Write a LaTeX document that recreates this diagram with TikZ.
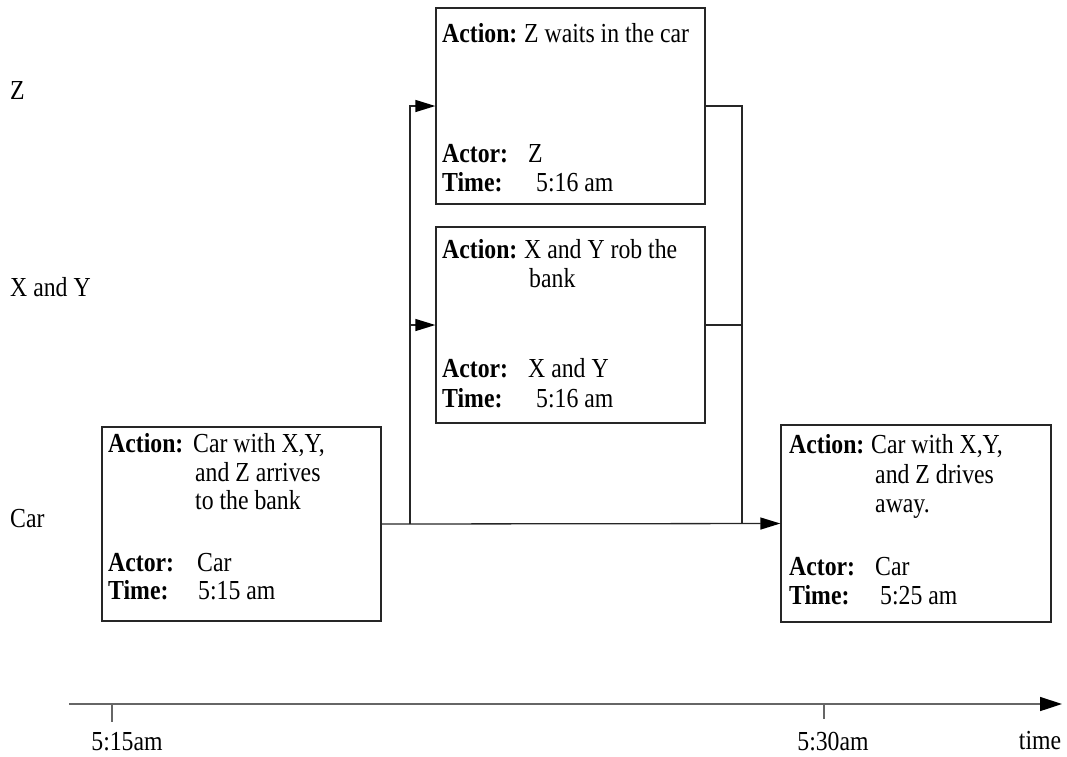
\documentclass[tikz,border=0pt]{standalone}
\usepackage{fontspec}
\setmainfont{Liberation Serif}
\usepackage{graphicx}
\usetikzlibrary{arrows.meta}
\newcommand\sq[1]{\scalebox{0.95}[1.1]{#1}}
\tikzset{
  box/.style={draw=black!85, line width=1.3pt, inner sep=0pt},
  txt/.style={anchor=base west, inner sep=0pt, font=\fontsize{25}{28}\selectfont},
  ctr/.style={anchor=base, inner sep=0pt, font=\fontsize{25}{28}\selectfont},
  conn/.style={draw=black!85, line width=1.3pt},
  arr/.style={conn, -{Triangle[length=20pt,width=12pt,color=black]}},
  tl/.style={draw=black!60, line width=1.5pt},
}
\begin{document}
\begin{tikzpicture}[x=1pt,y=-1pt]
\useasboundingbox (0,0) rectangle (1067,756);

% row labels
\node[txt] (lz) at (10,99) {\sq{Z}};
\node[txt] (lxy) at (10,296) {\sq{X and Y}};
\node[txt] (lcar) at (10,527) {\sq{Car}};

% boxes
\node[box, minimum width=279pt, minimum height=194pt] (A) at (241.5,524) {};
\node[box, minimum width=269pt, minimum height=196pt] (Z) at (570.5,106) {};
\node[box, minimum width=269pt, minimum height=196pt] (XY) at (570.5,325) {};
\node[box, minimum width=270pt, minimum height=197pt] (B) at (916,523.5) {};

% box A text
\node[txt] (a1) at (108,452) {\sq{\textbf{Action:}}};
\node[txt] (a2) at (193,452) {\sq{Car with X,Y,}};
\node[txt] (a3) at (195,481) {\sq{and Z arrives}};
\node[txt] (a4) at (195,509) {\sq{to the bank}};
\node[txt] (a5) at (108,571) {\sq{\textbf{Actor:}}};
\node[txt] (a6) at (197,571) {\sq{Car}};
\node[txt] (a7) at (108,599) {\sq{\textbf{Time:}}};
\node[txt] (a8) at (198,599) {\sq{5:15 am}};

% box Z text
\node[txt] (z1) at (442,42) {\sq{\textbf{Action:}}};
\node[txt] (z2) at (524,42) {\sq{Z waits in the car}};
\node[txt] (z3) at (442,162) {\sq{\textbf{Actor:}}};
\node[txt] (z4) at (528,162) {\sq{Z}};
\node[txt] (z5) at (442,191) {\sq{\textbf{Time:}}};
\node[txt] (z6) at (536,191) {\sq{5:16 am}};

% box XY text
\node[txt] (x1) at (442,258) {\sq{\textbf{Action:}}};
\node[txt] (x2) at (524,258) {\sq{X and Y rob the}};
\node[txt] (x3) at (529,287) {\sq{bank}};
\node[txt] (x4) at (442,377) {\sq{\textbf{Actor:}}};
\node[txt] (x5) at (528,377) {\sq{X and Y}};
\node[txt] (x6) at (442,407) {\sq{\textbf{Time:}}};
\node[txt] (x7) at (536,407) {\sq{5:16 am}};

% box B text
\node[txt] (b1) at (789,453) {\sq{\textbf{Action:}}};
\node[txt] (b2) at (871,453) {\sq{Car with X,Y,}};
\node[txt] (b3) at (875,483) {\sq{and Z drives}};
\node[txt] (b4) at (875,512) {\sq{away.}};
\node[txt] (b5) at (789,575) {\sq{\textbf{Actor:}}};
\node[txt] (b6) at (875,575) {\sq{Car}};
\node[txt] (b7) at (789,604) {\sq{\textbf{Time:}}};
\node[txt] (b8) at (880,604) {\sq{5:25 am}};

% connectors
\coordinate (s) at (410,0);
\coordinate (m) at (742,0);
\draw[arr] (A.east) -- (B.west);
\draw[arr] (A.east -| s) |- (Z.west);
\draw[arr] (A.east -| s) |- (XY.west);
\draw[conn] (Z.east) -| (m |- A.east);
\draw[conn] (XY.east) -- (XY.east -| m);

% timeline
\coordinate (t0) at (69,704);
\coordinate (t1) at (1062,704);
\coordinate (k1) at (112,704);
\coordinate (k2) at (824,704);
\draw[tl, -{Triangle[length=22pt,width=14pt,color=black]}] (t0) -- (t1);
\draw[tl] (k1) -- ++(0,18);
\draw[tl] (k2) -- ++(0,15);
\node[ctr] (l1) at (127,750) {\sq{5:15am}};
\node[ctr] (l2) at (833,750) {\sq{5:30am}};
\node[ctr] (l3) at (1040,749) {\sq{time}};
\end{tikzpicture}
\end{document}
